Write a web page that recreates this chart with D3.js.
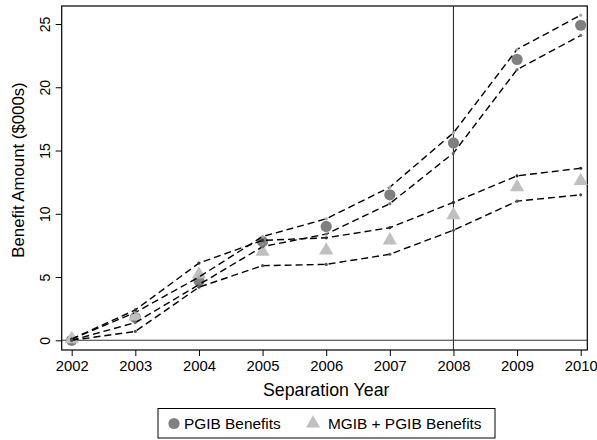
<!DOCTYPE html>
<html>
<head>
<meta charset="utf-8">
<script src="https://cdn.jsdelivr.net/npm/d3@7"></script>
<style>
  html, body { margin: 0; padding: 0; background: #fff; }
  svg { display: block; font-family: "Liberation Sans", Arial, sans-serif; }
</style>
</head>
<body>
<svg id="chart" width="597" height="440"></svg>
<script>
// ---- data ----
const years   = [2002, 2003, 2004, 2005, 2006, 2007, 2008, 2009, 2010];
const pgib    = [0.0, 1.8, 4.7, 7.8, 9.0, 11.5, 15.6, 22.2, 24.9];
const pgibHi  = [0.1, 2.2, 5.0, 8.2, 9.6, 12.1, 16.4, 23.0, 25.7];
const pgibLo  = [0.0, 1.4, 4.4, 7.4, 8.4, 10.8, 14.8, 21.4, 24.1];
const mgib    = [0.1, 1.9, 5.2, 7.0, 7.1, 7.9, 9.9, 12.1, 12.6];
const mgibHi  = [0.1, 2.4, 6.1, 7.9, 8.1, 8.9, 10.9, 13.0, 13.6];
const mgibLo  = [0.0, 0.7, 4.2, 5.9, 6.0, 6.8, 8.7, 11.0, 11.5];
const yTicks  = [0, 5, 10, 15, 20, 25];
const refYear = 2008;
const seriesNames = ["PGIB Benefits", "MGIB + PGIB Benefits"];
const xTitle = "Separation Year";
const yTitle = "Benefit Amount ($000s)";

// ---- layout ----
const svg = d3.select("#chart");
const frame = { left: 61.7, right: 587.3, top: 6, bottom: 350 };
const x = d3.scaleLinear().domain([2002, 2010]).range([71.7, 580.7]);
const y = d3.scaleLinear().domain([0, 25]).range([340.3, 24]);

const circleCol = "#808080";
const triCol = "#c0c0c0";

// frame
svg.append("rect")
  .attr("x", frame.left).attr("y", frame.top)
  .attr("width", frame.right - frame.left).attr("height", frame.bottom - frame.top)
  .attr("fill", "none").attr("stroke", "#000").attr("stroke-width", 1.2);

// reference lines
svg.append("line")
  .attr("x1", frame.left).attr("x2", frame.right)
  .attr("y1", y(0)).attr("y2", y(0))
  .attr("stroke", "#333").attr("stroke-width", 1.1);
svg.append("line")
  .attr("x1", x(refYear)).attr("x2", x(refYear))
  .attr("y1", frame.top).attr("y2", frame.bottom)
  .attr("stroke", "#333").attr("stroke-width", 1.1);

// axes
const xAxis = d3.axisBottom(x).tickValues(years).tickFormat(d3.format("d")).tickSize(6).tickPadding(4);
const gx = svg.append("g").attr("transform", `translate(0,${frame.bottom})`).call(xAxis);
gx.select(".domain").remove();
gx.selectAll("line").attr("stroke", "#000");
gx.selectAll("text").attr("font-size", "14.8px").attr("fill", "#000")
  .attr("font-family", "Liberation Sans, Arial, sans-serif");

const yAxis = d3.axisLeft(y).tickValues(yTicks).tickSize(6).tickPadding(0).tickFormat(d3.format("d"));
const gy = svg.append("g").attr("transform", `translate(${frame.left},0)`).call(yAxis);
gy.select(".domain").remove();
gy.selectAll("line").attr("stroke", "#000");
gy.selectAll("text")
  .attr("font-size", "14px").attr("fill", "#000")
  .attr("font-family", "Liberation Sans, Arial, sans-serif")
  .attr("x", null).attr("dy", null)
  .attr("text-anchor", "middle")
  .attr("transform", "translate(-17,0) rotate(-90)")
  .attr("dy", "0.35em");

// titles
svg.append("text")
  .attr("x", (x(2002) + x(2010)) / 2 + 0).attr("y", 396)
  .attr("text-anchor", "middle").attr("font-size", "17.8px").attr("fill", "#000")
  .text(xTitle);
svg.append("text")
  .attr("transform", "translate(24,170) rotate(-90)")
  .attr("text-anchor", "middle").attr("font-size", "16.8px").attr("fill", "#000")
  .text(yTitle);

// markers
const circles = years.map((yr, i) => ({ yr, v: pgib[i] }));
const tris = years.map((yr, i) => ({ yr, v: mgib[i] }));

svg.append("g").selectAll("circle").data(circles).join("circle")
  .attr("cx", d => x(d.yr)).attr("cy", d => y(d.v)).attr("r", 5.6)
  .attr("fill", circleCol);

const triSym = d3.symbol().type(d3.symbolTriangle).size(88);
svg.append("g").selectAll("path").data(tris).join("path")
  .attr("d", triSym)
  .attr("transform", d => `translate(${x(d.yr)},${y(d.v)})`)
  .attr("fill", triCol);

// CI dashed lines
const line = d3.line().x(d => x(d.yr)).y(d => y(d.v));
const ciSets = [
  { vals: pgibHi, dot: "#a8a8a8" },
  { vals: pgibLo, dot: "#707070" },
  { vals: mgibHi, dot: "#303030" },
  { vals: mgibLo, dot: "#505050" }
];
ciSets.forEach(s => {
  const pts = years.map((yr, i) => ({ yr, v: s.vals[i] }));
  svg.append("path").datum(pts)
    .attr("d", line).attr("fill", "none")
    .attr("stroke", "#000").attr("stroke-width", 1.4)
    .attr("stroke-dasharray", "7,4");
  svg.append("g").selectAll("circle").data(pts).join("circle")
    .attr("cx", d => x(d.yr)).attr("cy", d => y(d.v)).attr("r", 1.6)
    .attr("fill", s.dot);
});

// legend
const lg = svg.append("g");
lg.append("rect").attr("x", 158).attr("y", 408.5).attr("width", 337).attr("height", 29.5)
  .attr("fill", "#fff").attr("stroke", "#000").attr("stroke-width", 1);
lg.append("circle").attr("cx", 174).attr("cy", 423.5).attr("r", 5.6).attr("fill", circleCol);
lg.append("text").attr("x", 184).attr("y", 423.5).attr("dy", "0.35em")
  .attr("font-size", "15.4px").attr("fill", "#000").text(seriesNames[0]);
lg.append("path").attr("d", triSym).attr("transform", "translate(313,423.5)").attr("fill", triCol);
lg.append("text").attr("x", 328).attr("y", 423.5).attr("dy", "0.35em")
  .attr("font-size", "15.4px").attr("fill", "#000").text(seriesNames[1]);
</script>
</body>
</html>
